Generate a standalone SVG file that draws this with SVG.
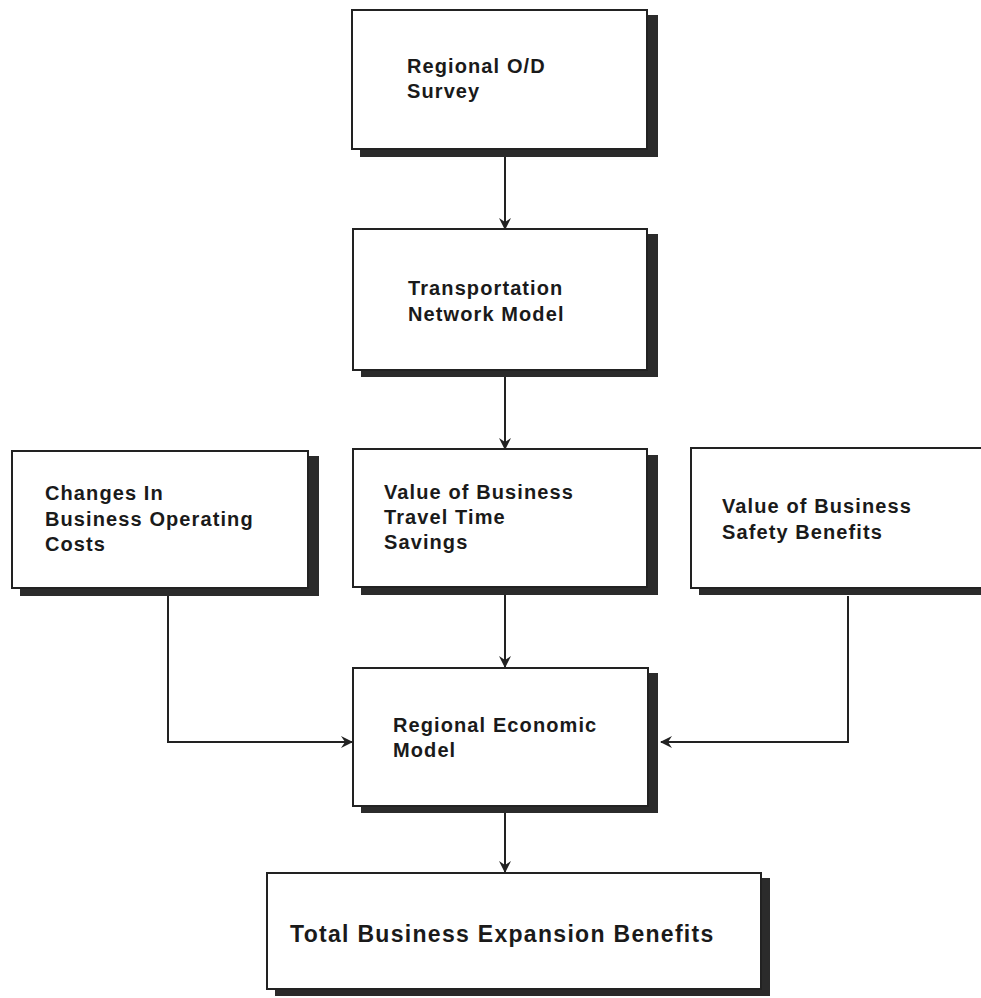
<svg xmlns="http://www.w3.org/2000/svg" width="981" height="998" viewBox="0 0 981 998">
<defs>
<style>
.box{fill:#fff;stroke:#222;stroke-width:2}
.sh{fill:#2b2b2b}
.t{font-family:"Liberation Sans",Arial,sans-serif;font-weight:bold;font-size:20px;letter-spacing:1.1px;fill:#1a1a1a}
.tl{font-size:23px;letter-spacing:1.3px}
.c{fill:none;stroke:#222;stroke-width:2}
</style>
<marker id="ah" viewBox="0 0 12 12" refX="11" refY="6" markerWidth="12" markerHeight="12" markerUnits="userSpaceOnUse" orient="auto">
<path d="M0,0 L12,6 L0,12 L4,6 z" fill="#222"/>
</marker>
</defs>
<rect width="981" height="998" fill="#fff"/>
<g id="connectors">
<line class="c" x1="505" y1="157" x2="505" y2="229" marker-end="url(#ah)"/>
<line class="c" x1="505" y1="377" x2="505" y2="449" marker-end="url(#ah)"/>
<line class="c" x1="505" y1="595" x2="505" y2="667" marker-end="url(#ah)"/>
<path class="c" d="M168,596 V742 H352" marker-end="url(#ah)"/>
<path class="c" d="M848,596 V742 H661" marker-end="url(#ah)"/>
<line class="c" x1="505" y1="813" x2="505" y2="872" marker-end="url(#ah)"/>
</g>
<g id="n1">
<rect class="sh" x="360" y="15" width="298" height="142"/>
<rect class="box" x="352" y="10" width="295" height="139"/>
<text class="t" x="407" y="73">Regional O/D</text>
<text class="t" x="407" y="98">Survey</text>
</g>
<g id="n2">
<rect class="sh" x="361" y="234" width="297" height="143"/>
<rect class="box" x="353" y="229" width="294" height="141"/>
<text class="t" x="408" y="295">Transportation</text>
<text class="t" x="408" y="321">Network Model</text>
</g>
<g id="n3">
<rect class="sh" x="20" y="456" width="299" height="140"/>
<rect class="box" x="12" y="451" width="296" height="137"/>
<text class="t" x="45" y="500">Changes In</text>
<text class="t" x="45" y="526">Business Operating</text>
<text class="t" x="45" y="551">Costs</text>
</g>
<g id="n4">
<rect class="sh" x="361" y="455" width="297" height="140"/>
<rect class="box" x="353" y="449" width="294" height="138"/>
<text class="t" x="384" y="499">Value of Business</text>
<text class="t" x="384" y="524">Travel Time</text>
<text class="t" x="384" y="549">Savings</text>
</g>
<g id="n5">
<rect class="sh" x="699" y="454" width="300" height="141"/>
<rect class="box" x="691" y="448" width="292" height="140"/>
<text class="t" x="722" y="513">Value of Business</text>
<text class="t" x="722" y="539">Safety Benefits</text>
</g>
<g id="n6">
<rect class="sh" x="361" y="673" width="297" height="140"/>
<rect class="box" x="353" y="668" width="295" height="138"/>
<text class="t" x="393" y="732">Regional Economic</text>
<text class="t" x="393" y="757">Model</text>
</g>
<g id="n7">
<rect class="sh" x="275" y="878" width="495" height="118"/>
<rect class="box" x="267" y="873" width="494" height="116"/>
<text class="t tl" x="290" y="942">Total Business Expansion Benefits</text>
</g>
</svg>
